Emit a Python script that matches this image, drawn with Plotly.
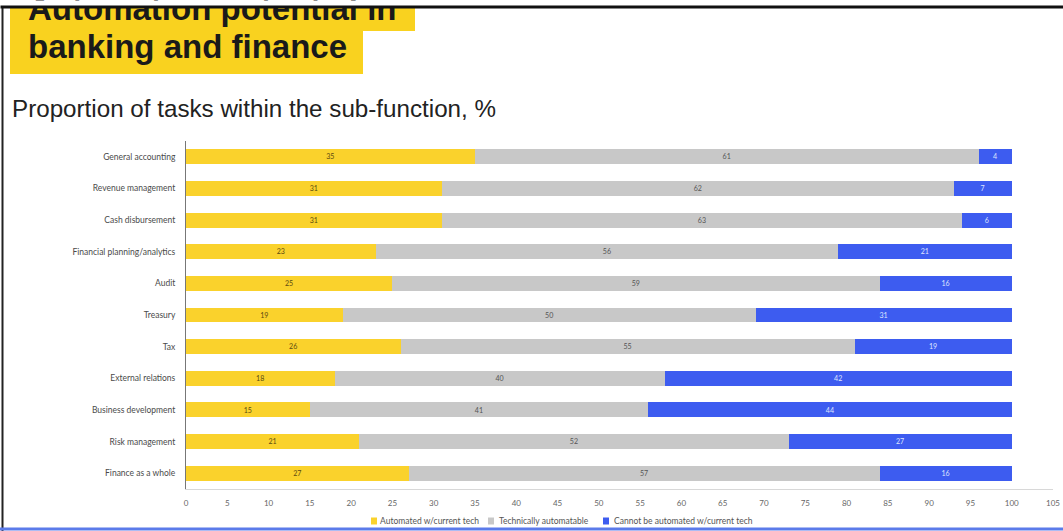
import plotly.graph_objects as go

# Sub-functions (top to bottom as shown)
categories = [
    "General accounting",
    "Revenue management",
    "Cash disbursement",
    "Financial planning/analytics",
    "Audit",
    "Treasury",
    "Tax",
    "External relations",
    "Business development",
    "Risk management",
    "Finance as a whole",
]
automated_now = [35, 31, 31, 23, 25, 19, 26, 18, 15, 21, 27]
technically_automatable = [61, 62, 63, 56, 59, 50, 55, 40, 41, 52, 57]
not_automatable = [4, 7, 6, 21, 16, 31, 19, 42, 44, 27, 16]

series_names = [
    "Automated w/current tech",
    "Technically automatable",
    "Cannot be automated w/current tech",
]
x_ticks = list(range(0, 106, 5))

W, H = 1063, 531
M_L, M_R, M_T, M_B = 186, 10, 141, 42
PW, PH = W - M_L - M_R, H - M_T - M_B


def px(x):
    return (x - M_L) / PW


def py(y):
    return 1 - (y - M_T) / PH


YELLOW = "#FAD22C"
GREY = "#C8C8C8"
BLUE = "#3D5CF0"
FONT_FAMILY = "Lato, Liberation Sans, Arial"

fig = go.Figure()
styles = [
    (series_names[0], automated_now, YELLOW, "#5a4a10"),
    (series_names[1], technically_automatable, GREY, "#555555"),
    (series_names[2], not_automatable, BLUE, "#dfe4ff"),
]
for name, vals, col, tcol in styles:
    fig.add_trace(go.Bar(
        y=categories, x=vals, orientation="h", name=name,
        marker=dict(color=col, line=dict(width=0)),
        text=[str(v) for v in vals], textposition="inside",
        insidetextanchor="middle", textangle=0,
        textfont=dict(color=tcol, family=FONT_FAMILY, size=8),
        showlegend=False,
    ))

fig.update_layout(
    width=W, height=H,
    margin=dict(l=M_L, r=M_R, t=M_T, b=M_B, pad=0, autoexpand=False),
    barmode="stack", bargap=0.53,
    paper_bgcolor="white", plot_bgcolor="white",
    uniformtext=dict(minsize=6, mode="show"),
    xaxis=dict(
        range=[0, 105], tickvals=x_ticks, showgrid=False, zeroline=False,
        showline=True, linecolor="#d8d8d8", linewidth=1,
        ticks="", ticklabelstandoff=6,
        tickfont=dict(color="#666666", family=FONT_FAMILY, size=8),
        fixedrange=True, automargin=False,
    ),
    yaxis=dict(
        autorange="reversed", showgrid=False, zeroline=False,
        showline=True, linecolor="#777777", linewidth=1,
        ticks="", ticklabelstandoff=8,
        tickfont=dict(color="#4a4a4a", family=FONT_FAMILY, size=8.5),
        fixedrange=True, automargin=False,
    ),
    showlegend=False,
)

# Legend row: small colour keys followed by series names
legend_keys = [(371, 378), (488, 497), (603, 612)]
for (kx, tx), (name, vals, col, tcol) in zip(legend_keys, styles):
    fig.add_shape(type="rect", xref="paper", yref="paper",
                  x0=px(kx), x1=px(kx + 6), y0=py(517.5), y1=py(524.5),
                  fillcolor=col, line=dict(width=0))
    fig.add_annotation(
        xref="paper", yref="paper", x=px(tx), y=py(521), xanchor="left",
        yanchor="middle", text=name, showarrow=False,
        font=dict(color="#555555", family=FONT_FAMILY, size=8.5),
    )

# Title block: yellow highlight boxes behind each line
fig.add_shape(type="rect", xref="paper", yref="paper",
              x0=px(10), x1=px(415), y0=py(7), y1=py(31),
              fillcolor="#F9D21F", line=dict(width=0), layer="below")
fig.add_shape(type="rect", xref="paper", yref="paper",
              x0=px(10), x1=px(363), y0=py(30), y1=py(74),
              fillcolor="#F9D21F", line=dict(width=0), layer="below")

TITLE_FONT = dict(family="Liberation Sans, Arial", size=33, color="#1a1a1a")
fig.add_annotation(
    xref="paper", yref="paper", x=px(26), y=py(8.5), xanchor="left", yanchor="middle",
    text="<b>Automation potential in</b>", showarrow=False, font=TITLE_FONT,
)
fig.add_annotation(
    xref="paper", yref="paper", x=px(26), y=py(46), xanchor="left", yanchor="middle",
    text="<b>banking and finance</b>", showarrow=False, font=TITLE_FONT,
)
# top strip and frame edge over the title
fig.add_annotation(
    xref="paper", yref="paper", x=px(0), y=py(0), xanchor="left", yanchor="top",
    text=" ", showarrow=False, width=W, height=5, bgcolor="white", borderpad=0,
    font=dict(size=1),
)
fig.add_annotation(
    xref="paper", yref="paper", x=px(0), y=py(5), xanchor="left", yanchor="top",
    text=" ", showarrow=False, width=W, height=2, bgcolor="#111111", borderpad=0,
    font=dict(size=1),
)

fig.add_annotation(
    xref="paper", yref="paper", x=px(10), y=py(108), xanchor="left", yanchor="middle",
    text="Proportion of tasks within the sub-function, %",
    showarrow=False,
    font=dict(family="Liberation Sans, Arial", size=24.2, color="#222222"),
)

# Frame lines
fig.add_shape(type="line", xref="paper", yref="paper",
              x0=px(2.5), x1=px(2.5), y0=py(6), y1=py(531),
              line=dict(color="#222222", width=2), layer="above")
fig.add_shape(type="line", xref="paper", yref="paper",
              x0=px(0), x1=px(W), y0=py(529), y1=py(529),
              line=dict(color="#5b7bea", width=3), layer="above")

fig.write_html("out.html")
